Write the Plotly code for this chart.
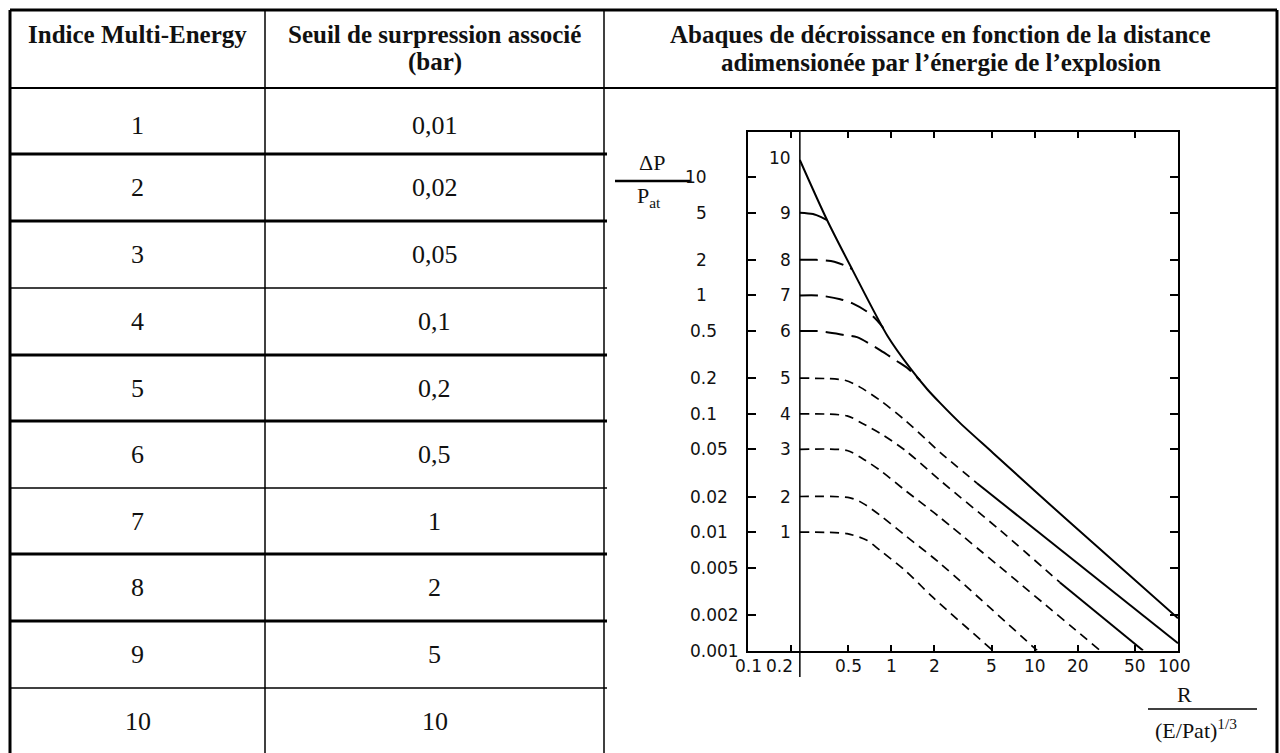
import math
import plotly.graph_objects as go

W, H = 1280, 753

# ---------------- table content ----------------
HEADER_INDEX = "Indice Multi-Energy"
HEADER_SEUIL = ["Seuil de surpression associé", "(bar)"]
HEADER_ABAQUE = ["Abaques de décroissance en fonction de la distance",
                 "adimensionée par l’énergie de l’explosion"]
INDICES = ["1", "2", "3", "4", "5", "6", "7", "8", "9", "10"]
SEUILS = ["0,01", "0,02", "0,05", "0,1", "0,2", "0,5", "1", "2", "5", "10"]

# ---------------- chart content ----------------
R_START = 0.23
X_TICK_VALS = [0.1, 0.2, 0.5, 1, 2, 5, 10, 20, 50, 100]
X_TICK_TEXT = ["0.1", "0.2", "0.5", "1", "2", "5", "10", "20", "50", "100"]
Y_TICK_VALS = [0.001, 0.002, 0.005, 0.01, 0.02, 0.05, 0.1, 0.2, 0.5, 1, 2, 5, 10]
Y_TICK_TEXT = ["0.001", "0.002", "0.005", "0.01", "0.02", "0.05", "0.1", "0.2",
               "0.5", "1", "2", "5", "10"]
CURVE_LABELS = ["1", "2", "3", "4", "5", "6", "7", "8", "9", "10"]
CURVE_START = [0.01, 0.02, 0.05, 0.1, 0.2, 0.5, 1, 2, 5, 13.95]

c10_x = [0.23, 0.356, 0.532, 0.948, 1.349, 1.774, 2.186, 3.01, 5.12, 16.8, 100]
c10_y = [13.95, 4.34, 1.67, 0.447, 0.244, 0.162, 0.1236, 0.0838, 0.0467, 0.0127, 0.00187]
c9_x = [0.23, 0.284, 0.329, 0.356]
c9_y = [5.0, 4.87, 4.55, 4.34]
c8_x = [0.23, 0.30, 0.40, 0.47, 0.532]
c8_y = [2.0, 2.0, 1.93, 1.80, 1.67]
c7_x = [0.23, 0.31, 0.44, 0.532, 0.70, 0.80, 0.88]
c7_y = [1.0, 1.0, 0.93, 0.86, 0.71, 0.61, 0.53]
c6_x = [0.23, 0.303, 0.475, 0.576, 0.834, 1.096, 1.286, 1.585]
c6_y = [0.5, 0.5, 0.462, 0.444, 0.345, 0.278, 0.245, 0.192]
c5_dash_x = [0.23, 0.475, 0.604, 0.834, 1.246, 1.774, 2.186, 3.96]
c5_dash_y = [0.2, 0.192, 0.168, 0.130, 0.0883, 0.0598, 0.0473, 0.0259]
c5_solid_x = [3.96, 100]
c5_solid_y = [0.0259, 0.00115]
c4_dash_x = [0.23, 0.491, 0.624, 0.834, 1.246, 2.186, 5.73, 15.0]
c4_dash_y = [0.1, 0.096, 0.0832, 0.0685, 0.0492, 0.0274, 0.0104, 0.00376]
c4_solid_x = [15.0, 57.0]
c4_solid_y = [0.00376, 0.001]
c3_x = [0.23, 0.491, 0.624, 0.834, 1.246, 2.186, 28.6]
c3_y = [0.05, 0.049, 0.0421, 0.0333, 0.0226, 0.0133, 0.001]
c2_x = [0.23, 0.515, 0.634, 0.834, 1.246, 2.186, 10.4]
c2_y = [0.02, 0.0195, 0.0175, 0.0139, 0.0094, 0.00545, 0.001]
c1_x = [0.23, 0.491, 0.676, 0.834, 1.246, 1.954, 5.1]
c1_y = [0.01, 0.0097, 0.00853, 0.00702, 0.00475, 0.00281, 0.001]

# ---------------- layout geometry (pixels) ----------------
T_LEFT, COL1, COL2, T_RIGHT = 10, 265, 604, 1277
T_TOP, HEAD_BOT = 10, 88
ROW_EDGES = [88, 154, 221, 288, 355, 421, 488, 554, 621, 688, 754]
THICK_EDGES = {154, 221, 355, 421, 554, 621}
PLOT_L, PLOT_R, PLOT_T, PLOT_B = 748, 1178, 132, 650.5
Y_TOP_LOG = 1.381

SERIF = "Liberation Serif"
SANS = "DejaVu Sans"
INK = "#111111"


def fx(x):
    return x / W


def fy(y):
    return 1 - y / H


fig = go.Figure()

SHORT_DASH = "9px,6px"
LONG_DASH = "18px,8px"
segments = [
    (c10_x, c10_y, "solid", 2.0),
    (c9_x, c9_y, "solid", 2.0),
    (c8_x, c8_y, LONG_DASH, 2.0),
    (c7_x, c7_y, LONG_DASH, 2.0),
    (c6_x, c6_y, LONG_DASH, 2.0),
    (c5_dash_x, c5_dash_y, SHORT_DASH, 1.7),
    (c5_solid_x, c5_solid_y, "solid", 2.0),
    (c4_dash_x, c4_dash_y, SHORT_DASH, 1.7),
    (c4_solid_x, c4_solid_y, "solid", 2.0),
    (c3_x, c3_y, SHORT_DASH, 1.7),
    (c2_x, c2_y, SHORT_DASH, 1.7),
    (c1_x, c1_y, SHORT_DASH, 1.7),
]
for xs, ys, dash, w in segments:
    fig.add_trace(go.Scatter(
        x=xs, y=ys, mode="lines",
        line=dict(color="black", width=w, dash=dash, shape="spline", smoothing=0.8),
        showlegend=False, hoverinfo="skip"))

fig.update_layout(
    width=W, height=H, autosize=False,
    margin=dict(l=0, r=0, t=0, b=0),
    paper_bgcolor="white", plot_bgcolor="white",
    xaxis=dict(type="log", range=[-1, 2], domain=[fx(PLOT_L), fx(PLOT_R)],
               showline=True, linecolor="black", linewidth=2, mirror="ticks",
               ticks="inside", ticklen=6, tickwidth=1.5, tickcolor="black",
               tickvals=X_TICK_VALS[1:-1], showticklabels=False,
               showgrid=False, zeroline=False, fixedrange=True),
    yaxis=dict(type="log", range=[-3, Y_TOP_LOG], domain=[fy(PLOT_B), fy(PLOT_T)],
               showline=True, linecolor="black", linewidth=2, mirror="ticks",
               ticks="inside", ticklen=8, tickwidth=1.5, tickcolor="black",
               tickvals=Y_TICK_VALS[1:], showticklabels=False,
               showgrid=False, zeroline=False, fixedrange=True),
)

shapes = []


def pline(x0, y0, x1, y1, w):
    shapes.append(dict(type="line", xref="paper", yref="paper",
                       x0=fx(x0), y0=fy(y0), x1=fx(x1), y1=fy(y1),
                       line=dict(color="black", width=w)))


# table frame
pline(T_LEFT, T_TOP, T_LEFT, H + 2, 3)
pline(T_RIGHT, T_TOP, T_RIGHT, H + 2, 3)
pline(T_LEFT, T_TOP, T_RIGHT, T_TOP, 3)
pline(COL1, T_TOP, COL1, H + 2, 1.5)
pline(COL2, T_TOP, COL2, H + 2, 1.5)
pline(T_LEFT, HEAD_BOT, T_RIGHT, HEAD_BOT, 2)
for e in ROW_EDGES[1:-1]:
    pline(T_LEFT, e, COL2 + 3, e, 3 if e in THICK_EDGES else 1.5)

# vertical line at start radius (shapes on log axes take data values)
shapes.append(dict(type="line", xref="x", yref="paper",
                   x0=R_START, x1=R_START,
                   y0=fy(677), y1=fy(PLOT_T), line=dict(color="black", width=1.5)))
# fraction bars
pline(615, 181, 690, 181, 2.5)
pline(1148, 709, 1257, 709, 1.5)

annotations = []


def ann(text, x, y, size, family=SERIF, xanchor="center", xref="paper", yref="paper",
        xshift=0, yshift=0):
    annotations.append(dict(text=text, x=x, y=y, xref=xref, yref=yref,
                            xanchor=xanchor, yanchor="middle", showarrow=False,
                            xshift=xshift, yshift=yshift,
                            font=dict(family=family, size=size, color=INK)))


# headers
ann("<b>%s</b>" % HEADER_INDEX, fx((T_LEFT + COL1) / 2), fy(35), 25)
ann("<b>%s</b>" % HEADER_SEUIL[0], fx((COL1 + COL2) / 2), fy(35), 25)
ann("<b>%s</b>" % HEADER_SEUIL[1], fx((COL1 + COL2) / 2), fy(62), 25)
ann("<b>%s</b>" % HEADER_ABAQUE[0], fx((COL2 + T_RIGHT) / 2), fy(35), 25)
ann("<b>%s</b>" % HEADER_ABAQUE[1], fx((COL2 + T_RIGHT) / 2), fy(62), 25)

# rows
for i, (idx, s) in enumerate(zip(INDICES, SEUILS)):
    yc = (ROW_EDGES[i] + ROW_EDGES[i + 1]) / 2
    if i == 0:
        yc += 5
    ann(idx, fx((T_LEFT + COL1) / 2), fy(yc), 26)
    ann(s, fx((COL1 + COL2) / 2), fy(yc), 26)

# y tick labels
for v, t in zip(Y_TICK_VALS, Y_TICK_TEXT):
    if "." in t:
        ann(t, fx(688), math.log10(v), 17, SANS, xanchor="left", yref="y")
    else:
        ann(t, fx(709), math.log10(v), 17, SANS, xanchor="right", yref="y")

# x tick labels
for v, t in zip(X_TICK_VALS, X_TICK_TEXT):
    sh = 0
    if t == "0.2":
        sh = -12
    elif t == "100":
        sh = -4
    ann(t, math.log10(v), fy(666), 17, SANS, xref="x", xshift=sh)

# curve labels
for lab, v in zip(CURVE_LABELS, CURVE_START):
    ann(lab, math.log10(R_START), math.log10(v), 17, SANS, xanchor="right",
        xref="x", yref="y", xshift=-7, yshift=2 if lab == "10" else 0)

# axis titles
ann("ΔP", fx(652), fy(162), 22)
ann("P<sub>at</sub>", fx(649), fy(197), 22)
ann("R", fx(1184), fy(694), 22)
ann("(E/Pat)<sup>1/3</sup>", fx(1196), fy(729), 22)

fig.update_layout(shapes=shapes, annotations=annotations)
fig.write_html(
    "out.html",
    config={"displayModeBar": False},
    post_script="document.body.style.margin='0px';document.body.style.overflow='hidden';",
)
